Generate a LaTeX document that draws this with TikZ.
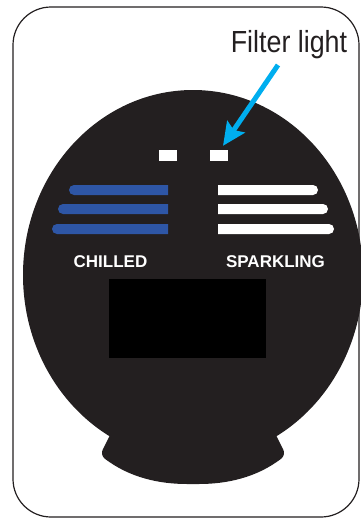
\documentclass[tikz,border=0pt]{standalone}
\usepackage{fontspec}
\setmainfont{Liberation Sans}
\usepackage{tikz}
\usetikzlibrary{arrows.meta, positioning, calc}
\definecolor{panelblack}{RGB}{35, 31, 32}
\definecolor{chillblue}{RGB}{46, 86, 166}
\definecolor{pointerblue}{RGB}{0, 174, 239}
\tikzset{
    frame/.style={draw, panelblack, line width=1.2pt, rounded corners=38pt},
    panel/.style={fill=panelblack},
    lamp/.style={rectangle, fill=white, minimum width=18pt, minimum height=11pt, inner sep=0pt},
    screen/.style={rectangle, fill=black, minimum width=157pt, minimum height=79pt, inner sep=0pt},
    modetext/.style={text=white, font=\bfseries\fontsize{17}{17}\selectfont, inner sep=0pt, anchor=base},
    calltext/.style={text=panelblack, font=\fontsize{30.5}{31}\selectfont, inner sep=0pt, anchor=base, xscale=0.88},
    pointer/.style={draw, -{Stealth[length=23pt, width=21pt, inset=4pt]}, pointerblue, line width=5pt}
}

\begin{document}
\begin{tikzpicture}[x=1pt, y=-1pt]
        \useasboundingbox (0,0) rectangle (360,520);
        \draw[frame] (13,7) rectangle (359,517);

        % body and stand
        \fill[panel] (193,275) ellipse [x radius=170, y radius=185];
        \fill[panel] (112,420) -- (110,435) [rounded corners=6pt] -- (100,455)
            .. controls (130,478) and (160,484) .. (193,484)
            .. controls (226,484) and (256,478) .. (286,455)
            [sharp corners] -- (276,435) -- (274,420) -- cycle;

        % filter lights
        \node[lamp] (lampleft) at (168,155.5) {};
        \node[lamp] (lampright) at (219,155.5) {};

        % level bars
        \foreach \y/\xl in {185/69, 204/58, 224/52}
            \fill[chillblue] (168,\y) [rounded corners=5pt] -- (\xl,\y) -- (\xl,\y+10) [sharp corners] -- (168,\y+10) -- cycle;
        \foreach \y/\xr in {185/318, 204/328, 224/334}
            \fill[white] (218,\y) [rounded corners=5pt] -- (\xr,\y) -- (\xr,\y+10) [sharp corners] -- (218,\y+10) -- cycle;

        \node[modetext] (chilled) at (110.5,267) {CHILLED};
        \node[modetext] (sparkling) at (275.5,267) {SPARKLING};

        \node[screen] (display) at (187.5,318.5) {};

        % callout
        \node[calltext] (filterlabel) at (289,52) {Filter light};
        \coordinate (arrowstart) at (278,65);
        \coordinate (arrowtip) at ($(lampright.north)+(4,-4)$);
        \draw[pointer] (arrowstart) -- (arrowtip);
    \end{tikzpicture}
\end{document}
